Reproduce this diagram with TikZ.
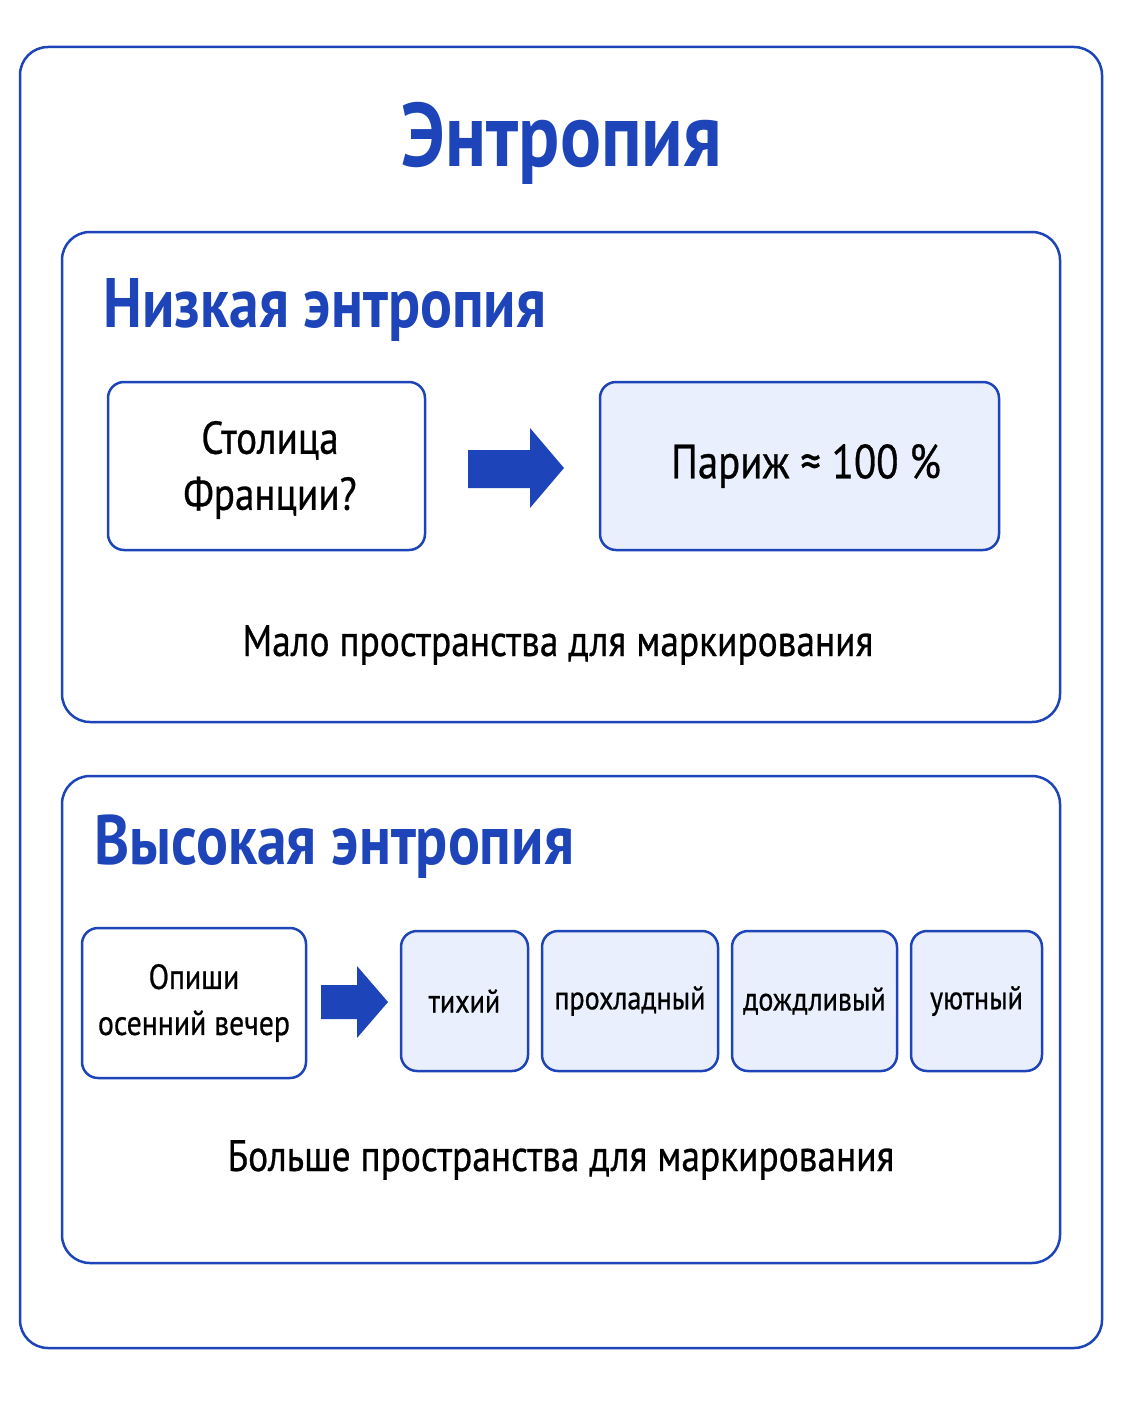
\documentclass[tikz,border=0pt]{standalone}
\usepackage{fontspec}
\setmainfont{PT Sans}[FakeStretch=0.85]
\newfontfamily\bodyfont{PT Sans}[FakeStretch=0.85,FakeBold=0.6]
\begin{document}
\begin{tikzpicture}[x=1pt,y=-1pt,
  frame/.style={draw=titleblue,line width=2.5pt,rounded corners=28pt},
  box/.style={draw=titleblue,line width=2.5pt,rounded corners=16pt,fill=white},
  ans/.style={box,fill=lightblue},
  head/.style={text=titleblue,font=\bfseries\fontsize{70}{78}\selectfont,anchor=west},
  body/.style={font=\bodyfont\fontsize{44}{50}\selectfont},
  word/.style={font=\bodyfont\fontsize{33}{38}\selectfont},
  arr/.style={fill=titleblue,draw=none}]
\definecolor{titleblue}{HTML}{1D44B8}
\definecolor{lightblue}{HTML}{E9EFFC}
\useasboundingbox (0,0) rectangle (1122,1402);
\draw[frame] (20,47) rectangle (1102,1348);
\node[text=titleblue,font=\bfseries\fontsize{90}{98}\selectfont] (title) at (562,143) {Энтропия};
% low
\draw[frame] (62,232) rectangle (1060,722);
\node[head] (h1) at (100,310) {Низкая энтропия};
\draw[box] (108,382) rectangle (425,550);
\node[align=center,font=\bodyfont\fontsize{46}{56}\selectfont] (q1) at (270,470) {Столица\\Франции?};
\fill[arr] (468,450) -- (530,450) -- (530,428) -- (564,468) -- (530,508) -- (530,488) -- (468,488) -- cycle;
\draw[ans] (600,382) rectangle (999,550);
\node[font=\bodyfont\fontsize{48}{54}\selectfont] (a1) at (806,466) {Париж ≈ 100 \%};
\node[body] (l1) at (558,645) {Мало пространства для маркирования};
% high
\draw[frame] (62,776) rectangle (1060,1263);
\node[head] (h2) at (91,847) {Высокая энтропия};
\draw[box] (82,928) rectangle (306,1078);
\node[align=center,font=\bodyfont\fontsize{35}{46}\selectfont] (q2) at (194,1003) {Опиши\\осенний вечер};
\fill[arr] (321,985) -- (357,985) -- (357,966) -- (388,1002) -- (357,1038) -- (357,1019) -- (321,1019) -- cycle;
\draw[ans] (401,931) rectangle (528,1071); \node[word] (w1) at (464.5,1001) {тихий};
\draw[ans] (542,931) rectangle (718,1071); \node[word] (w2) at (630,1001) {прохладный};
\draw[ans] (732,931) rectangle (897,1071); \node[word] (w3) at (814.5,1001) {дождливый};
\draw[ans] (911,931) rectangle (1042,1071); \node[word] (w4) at (976.5,1001) {уютный};
\node[body] (l2) at (561,1160) {Больше пространства для маркирования};
\end{tikzpicture}
\end{document}
